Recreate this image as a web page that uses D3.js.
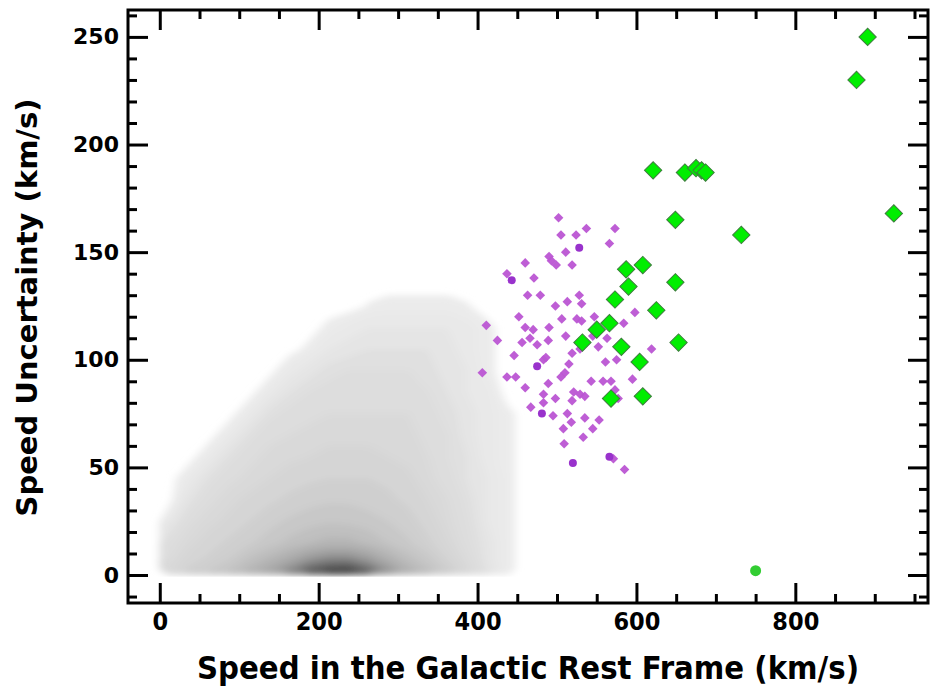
<!DOCTYPE html>
<html lang="en">
<head>
  <meta charset="UTF-8">
  <title>Speed vs Speed Uncertainty</title>
  <style>
    body { margin: 0; background: #fff; }
    svg { display: block; }
  </style>
</head>
<body>
<div id="chart-container"></div>
<script src="https://d3js.org/d3.v7.min.js"></script>
<script>

// background stars, binned density (rows = uncertainty bins, cols = speed bins)
const cloudXEdges = [0, 25, 50, 75, 100, 125, 150, 175, 200, 225, 250, 275, 300, 325, 350, 375, 400, 425, 450, 475];
const cloudYEdges = [0, 5, 10, 20, 30, 40, 50, 60, 70, 80, 90, 100, 110, 120, 130, 145];
const cloudDensity = [
  [12, 18, 22, 28, 38, 50, 65, 85, 96, 100, 82, 60, 42, 30, 20, 12, 5, 1, 0],
  [10, 15, 18, 22, 30, 38, 48, 60, 68, 68, 58, 44, 32, 24, 16, 10, 4, 1, 0],
  [8, 12, 15, 18, 21, 25, 30, 35, 38, 38, 34, 28, 23, 18, 13, 8, 4, 1, 0],
  [3, 9, 12, 14, 17, 20, 23, 25, 27, 26, 24, 22, 19, 15, 11, 7, 3, 1, 0],
  [0, 5, 9, 12, 14, 16, 18, 20, 21, 21, 20, 18, 16, 13, 10, 6, 3, 1, 0],
  [0, 2, 6, 9, 11, 13, 15, 16, 17, 17, 17, 16, 14, 11, 8, 5, 3, 1, 0],
  [0, 0, 2, 6, 9, 11, 12, 13, 14, 14, 14, 13, 12, 10, 7, 5, 2, 1, 0],
  [0, 0, 0, 2, 6, 9, 10, 11, 12, 12, 12, 12, 11, 9, 7, 4, 2, 1, 0],
  [0, 0, 0, 0, 2, 6, 8, 9, 10, 10, 10, 10, 10, 8, 6, 4, 2, 1, 0],
  [0, 0, 0, 0, 0, 2, 5, 7, 8, 8, 8, 8, 8, 7, 5, 3, 2, 0, 0],
  [0, 0, 0, 0, 0, 0, 2, 4, 6, 7, 7, 7, 7, 6, 4, 3, 1, 0, 0],
  [0, 0, 0, 0, 0, 0, 0, 1, 3, 4, 5, 5, 5, 5, 4, 2, 1, 0, 0],
  [0, 0, 0, 0, 0, 0, 0, 0, 1, 2, 3, 3, 3, 3, 3, 2, 1, 0, 0],
  [0, 0, 0, 0, 0, 0, 0, 0, 0, 0, 0.7, 1, 1, 1, 1, 0.7, 0, 0, 0],
  [0, 0, 0, 0, 0, 0, 0, 0, 0, 0, 0, 0, 0, 0, 0, 0, 0, 0, 0]
];
const cloudLevels = [0.6, 1.5, 3, 5, 7, 10, 13, 17, 22, 28, 35, 43, 52, 62, 72, 82, 92];

// [speed, uncertainty] in km/s
const purpleDiamonds = [
  [502,166],[537,161],[573,161],[505,158],[524,158],[566,154],[511,150],[490,148],[493,146],[499,144],
  [519,144],[460,145],[437,140],[471,138],[463,130],[479,130],[528,130],[531,126],[513,127],[498,125],
  [598,122],[547,120],[452,120],[506,119],[525,119],[531,118],[411,116],[460,115],[470,114],[490,115],
  [584,117],[425,109],[456,108],[466,110],[475,107],[489,109],[511,111],[545,111],[563,110],[552,106],
  [446,102],[483,100],[519,103],[529,105],[486,101],[515,98],[510,94],[505,92],[406,94],[437,92],
  [448,92],[561,99],[575,100],[595,91],[543,90],[558,90],[568,90],[489,89],[460,87],[483,84],
  [498,82],[521,85],[529,84],[535,83],[519,81],[577,82],[573,86],[467,78],[495,74],[513,75],
  [535,73],[553,72],[483,80],[508,68],[518,71],[545,68],[533,64],[509,61],[571,54],[585,49],[619,105]
];
const purpleCircles = [[528,152],[443,137],[475,97],[481,75],[520,52],[566,55]];
const greenDiamonds = [
  [891,250],[877,230],[621,188],[661,187],[675,189],[682,188],[687,187],[649,165],[732,158],[924,168],
  [587,142],[608,144],[590,134],[649,136],[573,128],[625,123],[566,117],[550,114],[532,108],[581,106],
  [653,108],[604,99],[608,83],[568,82]
];
const greenCircles = [[750, 2]];

const xMajorTicks = [0, 200, 400, 600, 800];
const yMajorTicks = [0, 50, 100, 150, 200, 250];

const width = 930, height = 690;
const plot = { left: 128, right: 928, top: 10, bottom: 603 };

const svg = d3.select("#chart-container")
  .append("svg")
  .attr("width", width)
  .attr("height", height);

const x = d3.scaleLinear().domain([-40, 967]).range([plot.left, plot.right]);
const y = d3.scaleLinear().domain([-13, 262.5]).range([plot.bottom, plot.top]);

// grey cloud: smooth contours of the binned density
const defs = svg.append("defs");
defs.append("filter")
  .attr("id", "soft")
  .attr("filterUnits", "userSpaceOnUse")
  .attr("x", 0).attr("y", 0).attr("width", width).attr("height", height)
  .append("feGaussianBlur")
  .attr("stdDeviation", "4 3");
defs.append("clipPath")
  .attr("id", "aboveZero")
  .append("rect")
  .attr("x", plot.left).attr("y", plot.top)
  .attr("width", plot.right - plot.left)
  .attr("height", y(-0.8) - plot.top);

const nCols = cloudXEdges.length - 1;
const nRows = cloudYEdges.length - 1;
const colCenters = d3.range(nCols).map(j => (cloudXEdges[j] + cloudXEdges[j + 1]) / 2);
const rowCenters = d3.range(nRows).map(i => (cloudYEdges[i] + cloudYEdges[i + 1]) / 2);
// grid coordinate -> data value (value k sits at grid coordinate k + 0.5)
const gridToSpeed = d3.scaleLinear().domain(d3.range(nCols).map(k => k + 0.5)).range(colCenters);
const gridToErr = d3.scaleLinear().domain(d3.range(nRows).map(k => k + 0.5)).range(rowCenters);

const grey = d3.scaleLinear()
  .domain([0.6, 5, 12, 25, 50, 100])
  .range(["#ebebeb", "#e0e0e0", "#d6d6d6", "#c4c4c4", "#a2a2a2", "#3a3a3a"])
  .clamp(true);

const cloudContours = d3.contours()
  .size([nCols, nRows])
  .thresholds(cloudLevels)(cloudDensity.flat());

const cloudPath = d3.geoPath(d3.geoTransform({
  point: function (u, v) { this.stream.point(x(gridToSpeed(u)), y(gridToErr(v))); }
}));

svg.append("g")
  .attr("clip-path", "url(#aboveZero)")
  .append("g")
  .attr("filter", "url(#soft)")
  .selectAll("path")
  .data(cloudContours)
  .enter().append("path")
  .attr("d", cloudPath)
  .style("fill", d => grey(d.value));

// markers
const smallDiamond = d3.symbol().type(d3.symbolSquare).size(46);
const bigDiamond = d3.symbol().type(d3.symbolSquare).size(150);

svg.append("g").selectAll("path")
  .data(purpleDiamonds)
  .enter().append("path")
  .attr("d", smallDiamond)
  .attr("transform", d => `translate(${x(d[0])},${y(d[1])}) rotate(45)`)
  .style("fill", "#ba55d3")
  .style("opacity", 0.95);

svg.append("g").selectAll("circle")
  .data(purpleCircles)
  .enter().append("circle")
  .attr("cx", d => x(d[0]))
  .attr("cy", d => y(d[1]))
  .attr("r", 4)
  .style("fill", "#9932cc");

svg.append("g").selectAll("path")
  .data(greenDiamonds)
  .enter().append("path")
  .attr("d", bigDiamond)
  .attr("transform", d => `translate(${x(d[0])},${y(d[1])}) rotate(45)`)
  .style("fill", "#00ee00")
  .style("stroke", "#3d7d3d")
  .style("stroke-width", 1);

svg.append("g").selectAll("circle")
  .data(greenCircles)
  .enter().append("circle")
  .attr("cx", d => x(d[0]))
  .attr("cy", d => y(d[1]))
  .attr("r", 5.5)
  .style("fill", "#32cd32");

// axes: ticks pointing inward on all four sides
const xMinor = [50, 100, 150, 250, 300, 350, 450, 500, 550, 650, 700, 750, 850, 900, 950];
const yMinor = [-10, 10, 20, 30, 40, 60, 70, 80, 90, 110, 120, 130, 140, 160, 170, 180, 190, 210, 220, 230, 240, 260];

function addAxis(axisFn, scale, values, size, transform, labels) {
  const g = svg.append("g")
    .attr("transform", transform)
    .call(axisFn(scale)
      .tickValues(values)
      .tickSizeInner(-size)
      .tickSizeOuter(0)
      .tickPadding(labels ? 9 : 0)
      .tickFormat(labels ? d3.format("d") : ""));
  g.select(".domain").remove();
  g.selectAll(".tick line").style("stroke", "#000").style("stroke-width", 3);
  return g;
}

const bottomAxis = addAxis(d3.axisBottom, x, xMajorTicks, 20, `translate(0,${plot.bottom})`, true);
addAxis(d3.axisBottom, x, xMinor, 9, `translate(0,${plot.bottom})`, false);
addAxis(d3.axisTop, x, xMajorTicks, 20, `translate(0,${plot.top})`, false);
addAxis(d3.axisTop, x, xMinor, 9, `translate(0,${plot.top})`, false);
const leftAxis = addAxis(d3.axisLeft, y, yMajorTicks, 20, `translate(${plot.left},0)`, true);
addAxis(d3.axisLeft, y, yMinor, 9, `translate(${plot.left},0)`, false);
addAxis(d3.axisRight, y, yMajorTicks, 20, `translate(${plot.right},0)`, false);
addAxis(d3.axisRight, y, yMinor, 9, `translate(${plot.right},0)`, false);

bottomAxis.selectAll("text")
  .style("font-family", "'DejaVu Sans Condensed', 'DejaVu Sans', sans-serif")
  .style("font-stretch", "condensed")
  .style("font-weight", "bold")
  .style("font-size", "25px")
  .style("fill", "#000");

leftAxis.selectAll("text")
  .style("font-family", "'DejaVu Sans', sans-serif")
  .style("font-weight", "bold")
  .style("font-size", "22px")
  .style("fill", "#000");

svg.append("rect")
  .attr("x", plot.left)
  .attr("y", plot.top)
  .attr("width", plot.right - plot.left)
  .attr("height", plot.bottom - plot.top)
  .style("fill", "none")
  .style("stroke", "#000")
  .style("stroke-width", 3);

// axis titles
svg.append("text")
  .attr("x", (plot.left + plot.right) / 2)
  .attr("y", 679)
  .style("text-anchor", "middle")
  .style("font-family", "'DejaVu Sans Condensed', 'DejaVu Sans', sans-serif")
  .style("font-stretch", "condensed")
  .style("font-weight", "bold")
  .style("font-size", "32.5px")
  .text("Speed in the Galactic Rest Frame (km/s)");

svg.append("text")
  .attr("transform", `translate(37,${(plot.top + plot.bottom) / 2 + 1}) rotate(-90)`)
  .style("text-anchor", "middle")
  .style("font-family", "'DejaVu Sans', sans-serif")
  .style("font-weight", "bold")
  .style("font-size", "29px")
  .text("Speed Uncertainty (km/s)");

</script>
</body>
</html>
